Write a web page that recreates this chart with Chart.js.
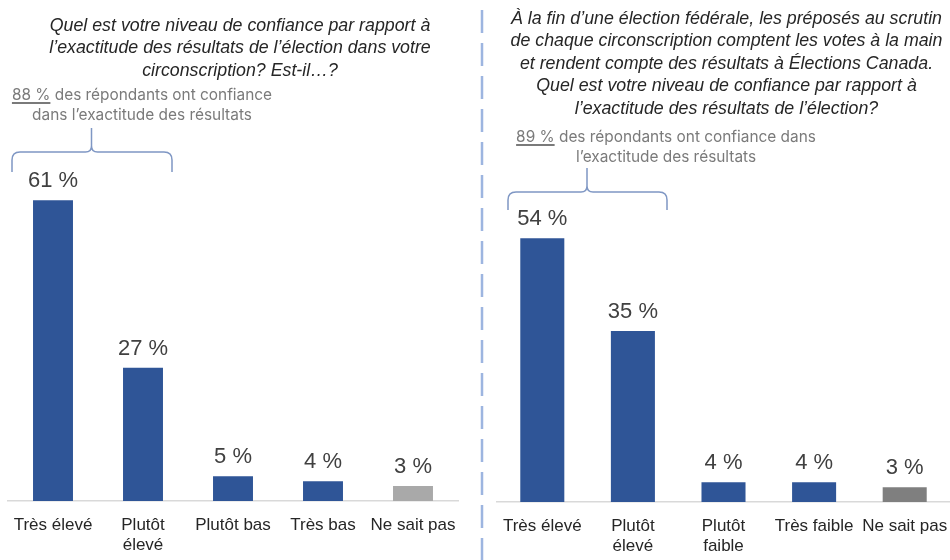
<!DOCTYPE html>
<html lang="fr">
<head>
<meta charset="utf-8">
<script src="https://cdn.jsdelivr.net/npm/chart.js@4"></script>
<style>
  html, body { margin: 0; padding: 0; background: #fff; }
  #wrap { position: relative; width: 950px; height: 560px; overflow: hidden; background: #fff; }
  canvas { position: absolute; top: 0; }
  .title { position: absolute; font-family: "Liberation Sans", Arial, sans-serif; font-style: italic;
           font-size: 17.8px; color: #262626; text-align: center; line-height: 22.4px; white-space: nowrap; }
  .note { position: absolute; font-family: Inter, "Open Sans", sans-serif; font-size: 15.4px;
          color: #7a7a7a; text-align: center; line-height: 20px; white-space: nowrap; }
  .note u { text-decoration-thickness: 1.5px; text-underline-offset: 2px; }
  svg { position: absolute; left: 0; top: 0; }
</style>
</head>
<body>
<div id="wrap">
  <canvas id="c1" width="470" height="574" style="left:0"></canvas>
  <canvas id="c2" width="470" height="574" style="left:480px"></canvas>
  <svg width="950" height="560"><line x1="482" y1="10" x2="482" y2="560" stroke="#9db5e0" stroke-width="2.5" stroke-dasharray="23 10"/></svg>
  <div class="title" style="left:0px; top:14px; width:480px;">Quel est votre niveau de confiance par rapport à<br>l’exactitude des résultats de l’élection dans votre<br>circonscription? Est-il…?</div>
  <div class="title" style="left:491px; top:7px; width:471px;">À la fin d’une élection fédérale, les préposés au scrutin<br>de chaque circonscription comptent les votes à la main<br>et rendent compte des résultats à Élections Canada.<br>Quel est votre niveau de confiance par rapport à<br>l’exactitude des résultats de l’élection?</div>
  <div class="note" style="left:2px; top:85px; width:280px;"><u>88 %</u> des répondants ont confiance<br>dans l’exactitude des résultats</div>
  <div class="note" style="left:506px; top:127px; width:320px;"><u>89 %</u> des répondants ont confiance dans<br>l’exactitude des résultats</div>
</div>
<script>
// ---- data ----
const leftCategories = ["Très élevé", ["Plutôt", "élevé"], "Plutôt bas", "Très bas", "Ne sait pas"];
const leftValues = [61, 27, 5, 4, 3];
const rightCategories = ["Très élevé", ["Plutôt", "élevé"], ["Plutôt", "faible"], "Très faible", "Ne sait pas"];
const rightValues = [54, 35, 4, 4, 3];

const BLUE = "#2f5597";
const leftColors = [BLUE, BLUE, BLUE, BLUE, "#a9a9a9"];
const rightColors = [BLUE, BLUE, BLUE, BLUE, "#7f7f7f"];

const valueLabels = {
  id: "valueLabels",
  afterDatasetsDraw(chart) {
    const ctx = chart.ctx;
    const meta = chart.getDatasetMeta(0);
    ctx.save();
    ctx.font = '22px "Liberation Sans", Arial, sans-serif';
    ctx.fillStyle = "#404040";
    ctx.textAlign = "center";
    ctx.textBaseline = "middle";
    meta.data.forEach((bar, i) => {
      ctx.fillText(chart.data.datasets[0].data[i] + " %", bar.x, bar.y - 19);
    });
    ctx.restore();
  }
};

const bracket = {
  id: "bracket",
  afterDraw(chart, args, o) {
    if (!o || o.x1 === undefined) return;
    const ctx = chart.ctx;
    const r = 8;
    ctx.save();
    ctx.strokeStyle = "#7f97c4";
    ctx.lineWidth = 1.5;
    ctx.beginPath();
    ctx.moveTo(o.x1, o.yEnd);
    ctx.lineTo(o.x1, o.y + r);
    ctx.quadraticCurveTo(o.x1, o.y, o.x1 + r, o.y);
    ctx.lineTo(o.xm - 6, o.y);
    ctx.quadraticCurveTo(o.xm, o.y, o.xm, o.y - 6);
    ctx.lineTo(o.xm, o.yTop);
    ctx.moveTo(o.xm, o.y - 6);
    ctx.quadraticCurveTo(o.xm, o.y, o.xm + 6, o.y);
    ctx.lineTo(o.x2 - r, o.y);
    ctx.quadraticCurveTo(o.x2, o.y, o.x2, o.y + r);
    ctx.lineTo(o.x2, o.yEnd);
    ctx.stroke();
    ctx.restore();
  }
};

function makeChart(id, cats, vals, colors, barPct, pad, br) {
  return new Chart(document.getElementById(id), {
    type: "bar",
    data: {
      labels: cats,
      datasets: [{ data: vals, backgroundColor: colors, borderWidth: 0,
                   categoryPercentage: 1, barPercentage: barPct }]
    },
    options: {
      responsive: false,
      maintainAspectRatio: false,
      animation: false,
      layout: { padding: pad },
      plugins: { legend: { display: false }, tooltip: { enabled: false }, bracket: br },
      scales: {
        x: {
          afterFit(scale) { scale.paddingLeft = 0; scale.paddingRight = 0; },
          grid: { display: false, drawTicks: false },
          border: { display: true, color: "#d9d9d9", width: 1.5 },
          ticks: { color: "#262626", padding: 14, maxRotation: 0, autoSkip: false,
                   font: { family: '"Liberation Sans", Arial, sans-serif', size: 17, lineHeight: 1.18 } }
        },
        y: { display: false, min: 0, max: 70 }
      }
    },
    plugins: [valueLabels, bracket]
  });
}

makeChart("c1", leftCategories, leftValues, leftColors, 0.444,
  { left: 8, right: 12, top: 156, bottom: 5 },
  { x1: 12, x2: 172, xm: 91.5, y: 152, yTop: 128, yEnd: 172 });
makeChart("c2", rightCategories, rightValues, rightColors, 0.486,
  { left: 17, right: 0, top: 160, bottom: 4 },
  { x1: 28, x2: 187, xm: 107, y: 192, yTop: 168, yEnd: 210 });
</script>
</body>
</html>
